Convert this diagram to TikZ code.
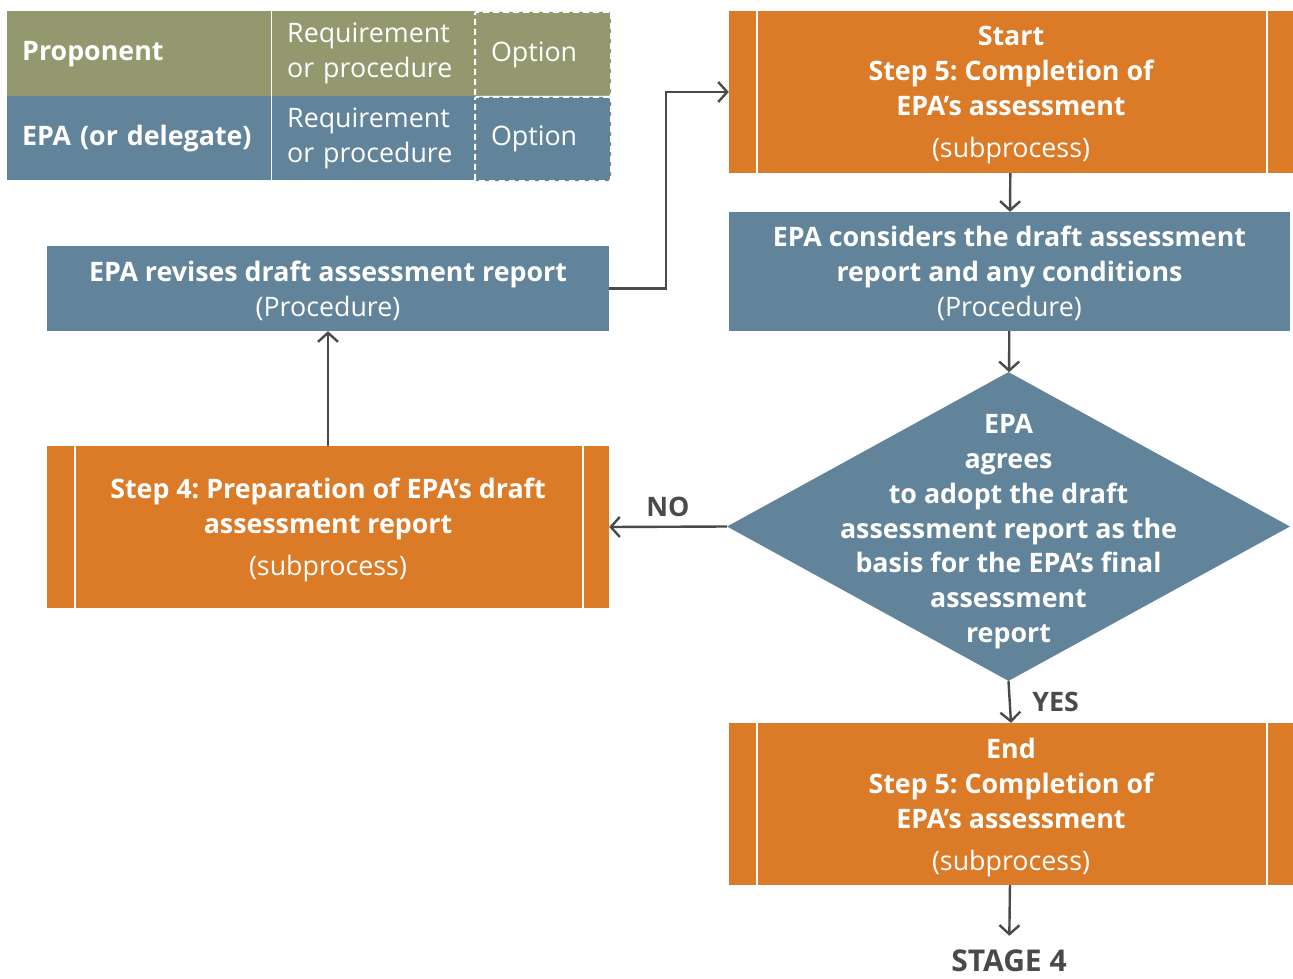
\documentclass[tikz,border=0pt]{standalone}
\usepackage{fontspec}
\setmainfont{Open Sans}
\frenchspacing
\usetikzlibrary{arrows.meta,shapes.geometric}
\definecolor{epaorange}{HTML}{DB7B28}
\definecolor{epablue}{HTML}{62849B}
\definecolor{epaolive}{HTML}{94986E}
\definecolor{linegray}{HTML}{4A4A4A}
\tikzset{
  every node/.style={font=\fontsize{26.8}{35}\selectfont},
  legcell/.style={anchor=north west, inner xsep=15pt, inner ysep=0pt, text=white, align=left},
  optcell/.style={legcell, draw=white, line width=2pt, dash pattern=on 6pt off 4pt, rounded corners=2pt},
  procbox/.style={fill=epablue, text=white, align=center, inner sep=0pt, text depth=0pt},
  subproc/.style={fill=epaorange, text=white, align=center, inner sep=0pt, text depth=0pt,
    path picture={
      \draw[white, line width=2pt]
        ([xshift=28pt]path picture bounding box.north west) -- ([xshift=28pt]path picture bounding box.south west)
        ([xshift=-26pt]path picture bounding box.north east) -- ([xshift=-26pt]path picture bounding box.south east);
    }},
  decision/.style={diamond, fill=epablue, inner sep=0pt, minimum width=563pt, minimum height=309pt},
  conn/.style={draw=linegray, line width=2.4pt, -{Straight Barb[length=9pt, width=20pt, line width=2.4pt]}},
  answer/.style={text=linegray, font=\bfseries\fontsize{26.8}{35}\selectfont}
}
\begin{document}
\begin{tikzpicture}[x=1pt, y=-1pt]
  %%%%% START %%%%%
  \useasboundingbox (0,0) rectangle (1293,979);

  % legend
  \node[legcell, fill=epaolive, minimum width=264pt, minimum height=85pt, text width=234pt] (propo) at (7,11) {\bfseries Proponent};
  \node[legcell, fill=epaolive, minimum width=203pt, minimum height=85pt, text width=173pt, inner xsep=16pt] (proreq) at (271,11) {Requirement\\or procedure};
  \node[legcell, fill=epablue, minimum width=264pt, minimum height=84pt, text width=234pt] (epa) at (7,96) {\bfseries EPA (or delegate)};
  \node[legcell, fill=epablue, minimum width=203pt, minimum height=84pt, text width=173pt, inner xsep=16pt] (epareq) at (271,96) {Requirement\\or procedure};
  \node[optcell, fill=epaolive, minimum width=136pt, minimum height=85pt, text width=104pt, inner xsep=16pt] (proopt) at (474,11) {Option};
  \node[optcell, fill=epablue, minimum width=136pt, minimum height=84pt, text width=104pt, inner xsep=16pt] (epaopt) at (474,96) {Option};
  \draw[white, line width=1pt] (proreq.north west) -- (epareq.south west);

  % right column
  \node[subproc, minimum width=564pt, minimum height=162pt] (start) at (1011,92)
    {\bfseries Start\\\bfseries Step 5: Completion of\\\bfseries EPA’s assessment\\[7pt](subprocess)};
  \node[procbox, minimum width=561pt, minimum height=119pt] (consider) at (1009.5,271.5)
    {\bfseries EPA considers the draft assessment\\\bfseries report and any conditions\\(Procedure)};
  \node[decision] (agree) at (1008.5,526.5) {};
  \node[text=white, align=center, inner sep=0pt, text depth=0pt, font=\bfseries\fontsize{26.8}{34.8}\selectfont] (agreetext) at ([yshift=-2pt]agree)
    {EPA\\agrees\\to adopt the draft\\assessment report as the\\basis for the EPA’s final\\assessment\\report};
  \node[subproc, minimum width=564pt, minimum height=162pt] (end) at (1011,804)
    {\bfseries End\\\bfseries Step 5: Completion of\\\bfseries EPA’s assessment\\[7pt](subprocess)};
  \node[answer, inner sep=0pt, font=\bfseries\fontsize{30}{35}\selectfont] (stage) at (1009,961) {STAGE 4};

  % left column
  \node[subproc, minimum width=562pt, minimum height=162pt] (prep) at (328,527)
    {\bfseries Step 4: Preparation of EPA’s draft\\\bfseries assessment report\\[7pt](subprocess)};
  \node[procbox, minimum width=562pt, minimum height=85pt] (revise) at (328,288.5)
    {\bfseries EPA revises draft assessment report\\(Procedure)};

  % connectors
  \draw[conn] (start) -- (consider);
  \draw[conn] (consider) -- (agree);
  \draw[conn] (agree.south) -- node[answer, right=18pt] {YES} (end.north);
  \draw[conn, shorten >=14pt] (end) -- (stage);
  \draw[conn] (agree.west) -- node[answer, above=5pt] {NO} (prep.east);
  \draw[conn] (prep) -- (revise);
  \draw[conn] (revise.east) -- ++(57,0) |- (start.west);
  %%%%% END %%%%%
\end{tikzpicture}
\end{document}
